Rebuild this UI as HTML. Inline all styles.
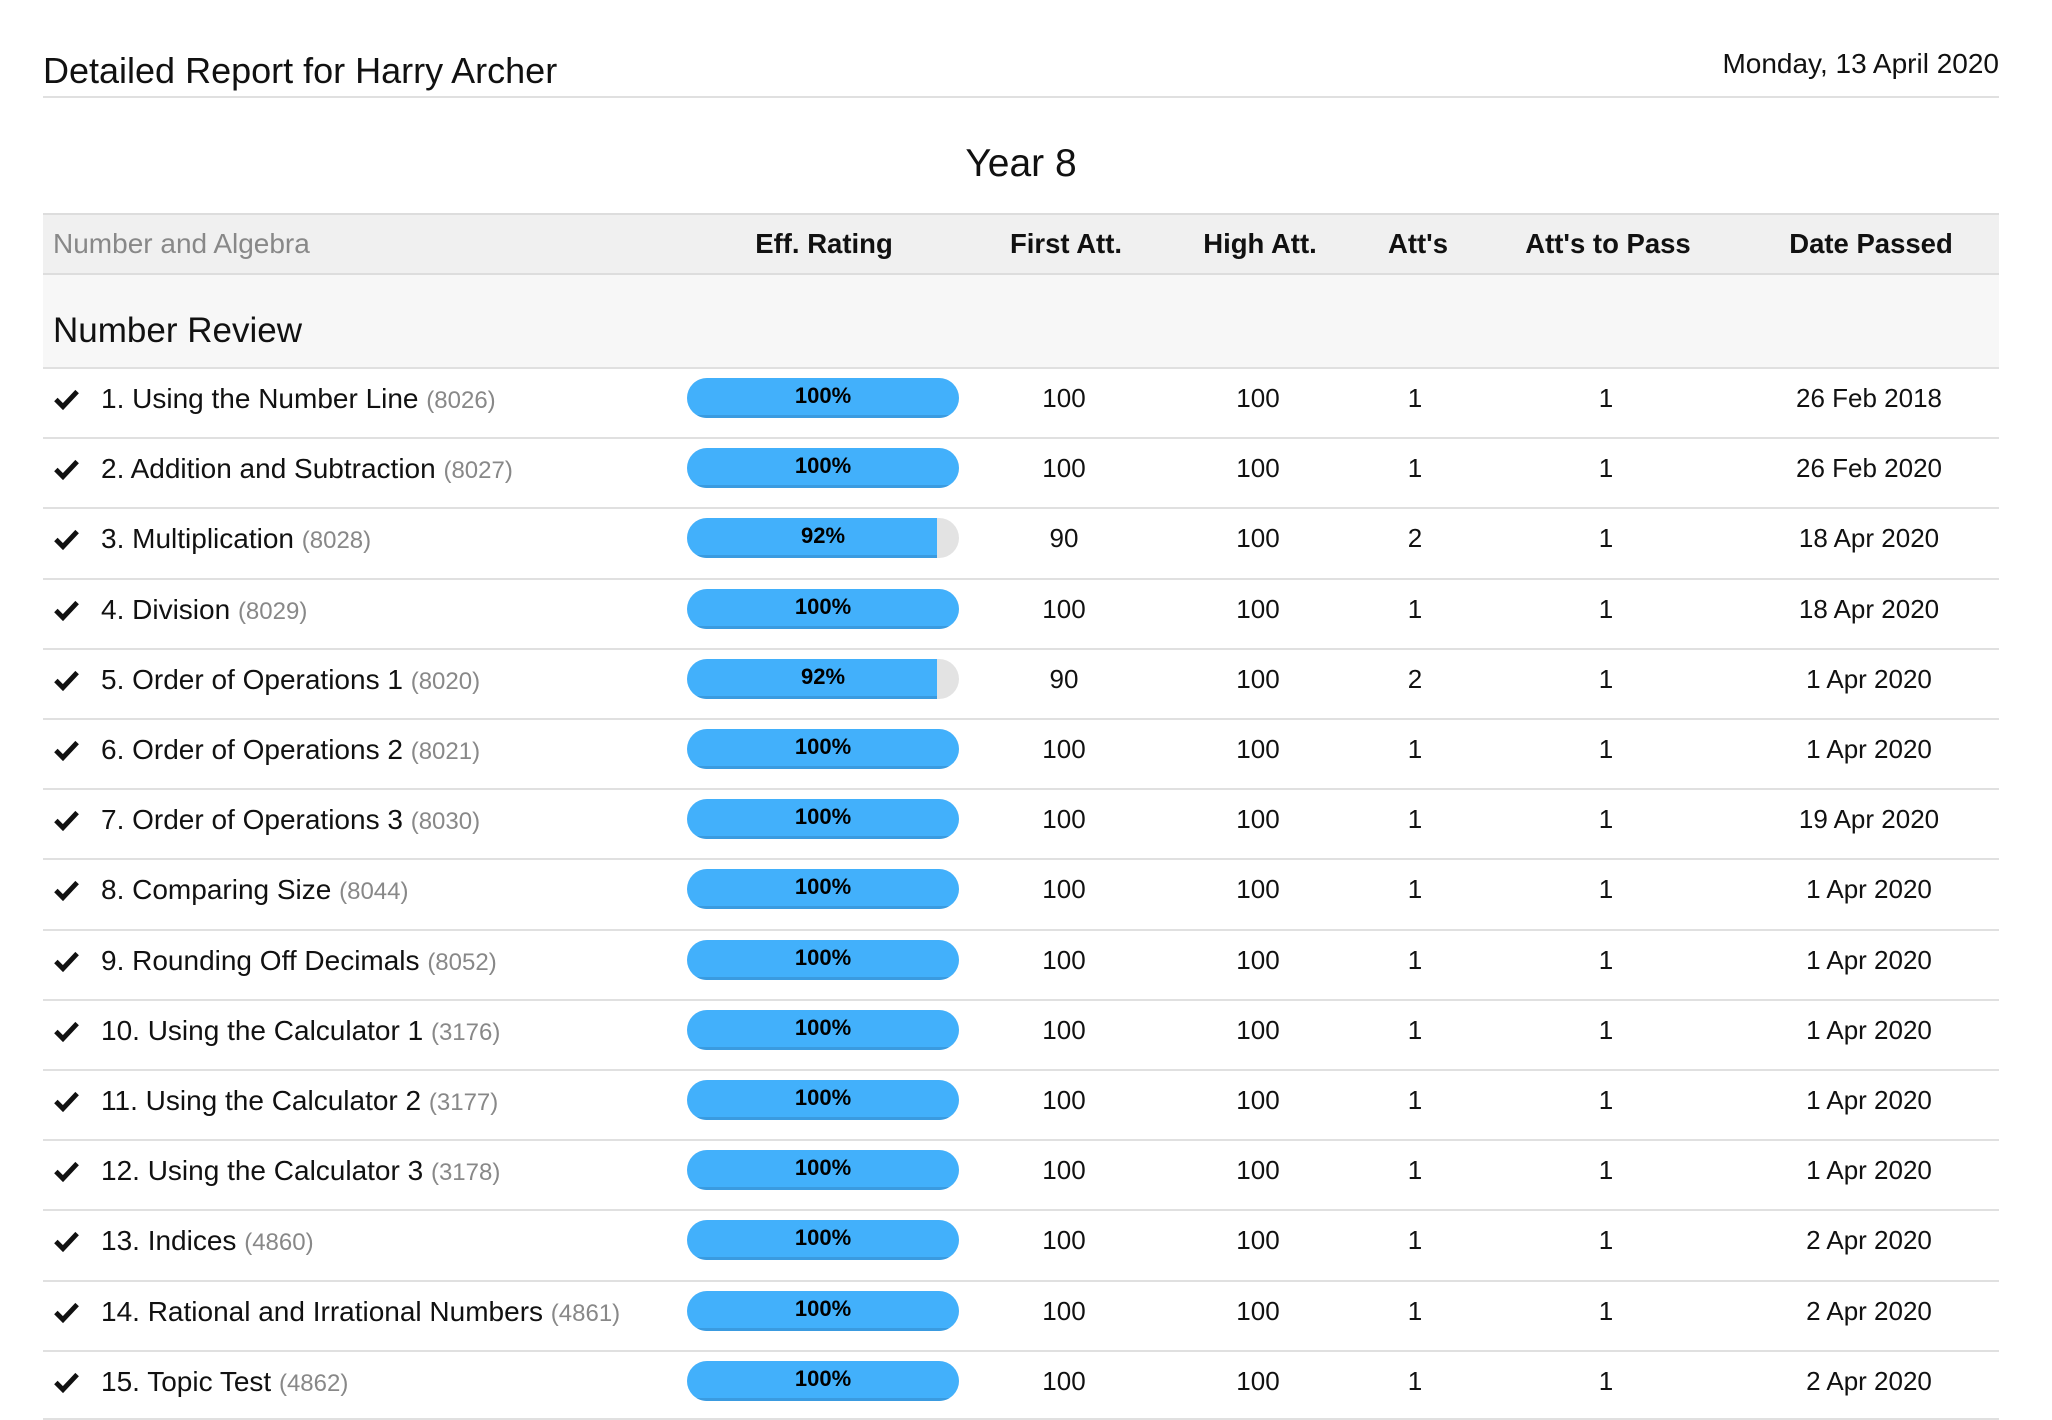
<!DOCTYPE html>
<html><head><meta charset="utf-8">
<style>
*{margin:0;padding:0;box-sizing:border-box}
body{width:2052px;height:1420px;background:#fff;font-family:"Liberation Sans",sans-serif;color:#111;position:relative;overflow:hidden}
.a{position:absolute;white-space:nowrap}
.line{position:absolute;left:43px;width:1956px;height:2px;background:#e0e0e0}
.c{position:absolute;transform:translateX(-50%);font-size:26px;white-space:nowrap}
.hd{font-weight:bold;font-size:27.5px}
.bar{position:absolute;left:687px;width:272px;height:40px;border-radius:20px;background:#e3e3e3;overflow:hidden}
.fill{position:absolute;left:0;top:0;bottom:0;background:#42b0fb;border-bottom:3px solid #3a9be0}
.bt{position:absolute;left:0;width:272px;top:5px;text-align:center;font-weight:bold;font-size:22px;color:#000}
.chk{position:absolute;left:53px;width:27px;height:23px}
.nm{position:absolute;left:101px;font-size:28px;white-space:nowrap}
.nm span{color:#888;font-size:24px}
</style></head><body>
<div class="a" style="left:43px;top:50px;font-size:36px">Detailed Report for Harry Archer</div>
<div class="a" style="right:53px;top:48px;font-size:28px">Monday, 13 April 2020</div>
<div class="line" style="top:96px"></div>
<div class="c" style="left:1021px;top:142px;font-size:39px">Year 8</div>
<div class="a" style="left:43px;top:213px;width:1956px;height:60px;background:#f0f0f0;border-top:2px solid #ddd"></div>
<div class="a" style="left:43px;top:273px;width:1956px;height:94px;background:#f7f7f7;border-top:2px solid #ddd"></div>
<div class="a" style="left:53px;top:228px;font-size:28px;color:#888">Number and Algebra</div>
<div class="c hd" style="left:824px;top:228px">Eff. Rating</div>
<div class="c hd" style="left:1066px;top:228px">First Att.</div>
<div class="c hd" style="left:1260px;top:228px">High Att.</div>
<div class="c hd" style="left:1418px;top:228px">Att's</div>
<div class="c hd" style="left:1608px;top:228px">Att's to Pass</div>
<div class="c hd" style="left:1871px;top:228px">Date Passed</div>
<div class="a" style="left:53px;top:311px;font-size:35px">Number Review</div>
<div id="rows"></div>
<script>
var d=[["1. Using the Number Line","8026",100,100,100,1,1,"26 Feb 2018"],
["2. Addition and Subtraction","8027",100,100,100,1,1,"26 Feb 2020"],
["3. Multiplication","8028",92,90,100,2,1,"18 Apr 2020"],
["4. Division","8029",100,100,100,1,1,"18 Apr 2020"],
["5. Order of Operations 1","8020",92,90,100,2,1,"1 Apr 2020"],
["6. Order of Operations 2","8021",100,100,100,1,1,"1 Apr 2020"],
["7. Order of Operations 3","8030",100,100,100,1,1,"19 Apr 2020"],
["8. Comparing Size","8044",100,100,100,1,1,"1 Apr 2020"],
["9. Rounding Off Decimals","8052",100,100,100,1,1,"1 Apr 2020"],
["10. Using the Calculator 1","3176",100,100,100,1,1,"1 Apr 2020"],
["11. Using the Calculator 2","3177",100,100,100,1,1,"1 Apr 2020"],
["12. Using the Calculator 3","3178",100,100,100,1,1,"1 Apr 2020"],
["13. Indices","4860",100,100,100,1,1,"2 Apr 2020"],
["14. Rational and Irrational Numbers","4861",100,100,100,1,1,"2 Apr 2020"],
["15. Topic Test","4862",100,100,100,1,1,"2 Apr 2020"]];
var h='';
d.forEach(function(r,i){
 var t=367+i*70.2;
 h+='<div class="line" style="top:'+t+'px"></div>';
 var ty=t+16;
 h+='<svg class="chk" style="top:'+(t+21)+'px" viewBox="0 0 30 26"><path d="M3 13 L11 21 L27 4" fill="none" stroke="#111" stroke-width="5.5"/></svg>';
 h+='<div class="nm" style="top:'+ty+'px">'+r[0]+' <span>('+r[1]+')</span></div>';
 var fw=r[2]==100?272:250;
 h+='<div class="bar" style="top:'+(t+11)+'px"><div class="fill" style="width:'+fw+'px"></div><div class="bt">'+r[2]+'%</div></div>';
 h+='<div class="c" style="left:1064px;top:'+ty+'px">'+r[3]+'</div>';
 h+='<div class="c" style="left:1258px;top:'+ty+'px">'+r[4]+'</div>';
 h+='<div class="c" style="left:1415px;top:'+ty+'px">'+r[5]+'</div>';
 h+='<div class="c" style="left:1606px;top:'+ty+'px">'+r[6]+'</div>';
 h+='<div class="c" style="left:1869px;top:'+ty+'px">'+r[7]+'</div>';
});
h+='<div class="line" style="top:1418px"></div>';
document.getElementById('rows').innerHTML=h;
</script>
</body></html>
